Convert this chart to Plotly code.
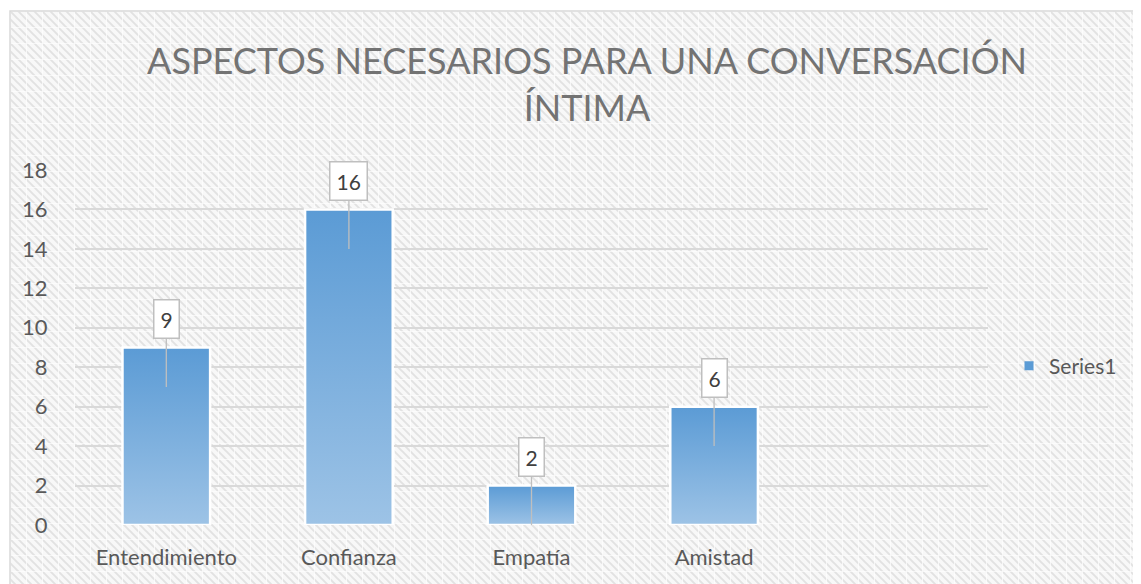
import base64
import plotly.graph_objects as go

categories = ["Entendimiento", "Confianza", "Empatía", "Amistad"]
values = [9, 16, 2, 6]
series_name = "Series1"
y_ticks = [0, 2, 4, 6, 8, 10, 12, 14, 16, 18]

OFF = 8  # page body margin
W, H = 1141 - OFF, 584 - OFF
# plot area in screen pixels: x 75..988, y 170..525
PL, PR, PT, PB = 75, 988, 170, 525
ML, MT = PL - OFF, PT - OFF
MR, MB = W - (PR - OFF), H - (PB - OFF)
PW, PH = PR - PL, PB - PT

def sx(px):  # screen px -> paper x
    return (px - PL) / PW

def sy(py):  # screen px -> paper y
    return (PB - py) / PH

# background hatch pattern (decorative)
bx0, by0 = 10, 11
bw, bh = 1141 - bx0 + 10, 584 - by0 + 10
svg = (
    f'<svg xmlns="http://www.w3.org/2000/svg" width="{bw}" height="{bh}">'
    '<defs>'
    '<pattern id="d" width="8" height="8" patternUnits="userSpaceOnUse">'
    '<rect width="8" height="8" fill="#f8f8f8"/>'
    '<path d="M-2,6 L2,10 M0,0 L8,8 M6,-2 L10,2" stroke="#e2e2e2" stroke-width="1.9"/>'
    '</pattern>'
    '<pattern id="g" width="16" height="16" patternUnits="userSpaceOnUse">'
    '<path d="M0,0 H16 M0,0 V16" stroke="#ffffff" stroke-width="1.6" stroke-opacity="0.85" fill="none"/>'
    '</pattern>'
    '</defs>'
    '<rect width="100%" height="100%" fill="url(#d)"/>'
    '<rect width="100%" height="100%" fill="url(#g)"/>'
    '</svg>'
)
src = "data:image/svg+xml;base64," + base64.b64encode(svg.encode()).decode()

fig = go.Figure()

half = 0.24
for i, v in enumerate(values):
    fig.add_trace(go.Scatter(
        x=[i - half, i + half, i + half, i - half, i - half],
        y=[0, 0, v, v, 0],
        mode="lines",
        fill="toself",
        fillgradient=dict(type="vertical", start=0, stop=v,
                          colorscale=[[0, "#9dc3e6"], [1, "#5b9bd5"]]),
        line=dict(color="white", width=2.5),
        showlegend=False,
        hoverinfo="skip",
    ))

fig.add_trace(go.Scatter(
    x=[None], y=[None], mode="markers", name=series_name,
    marker=dict(symbol="square", size=9, color="#5b9bd5"),
))

annotations = []
for i, v in enumerate(values):
    annotations.append(dict(
        x=i, y=v - 2, xref="x", yref="y",
        text=str(v), showarrow=True, ax=0, ay=-68,
        arrowhead=0, arrowwidth=1.3, arrowcolor="#bfbfbf", standoff=0,
        font=dict(family="Lato", size=21, color="#404040"),
        bgcolor="white", bordercolor="#bfbfbf", borderwidth=1.5, borderpad=6,
    ))

fig.update_layout(
    width=W, height=H,
    margin=dict(l=ML, r=MR, t=MT, b=MB),
    paper_bgcolor="white",
    plot_bgcolor="rgba(0,0,0,0)",
    title=dict(
        text="ASPECTOS NECESARIOS PARA UNA CONVERSACIÓN<br>ÍNTIMA",
        x=(587 - OFF) / W, xanchor="center", y=1 - (74 - OFF) / H, yanchor="top",
        font=dict(family="Lato", size=36, color="#737373", weight=400),
    ),
    xaxis=dict(
        range=[-0.5, 4.5], tickvals=list(range(len(categories))), ticktext=categories,
        showgrid=False, zeroline=False, showline=False,
        ticks="outside", ticklen=13, tickcolor="rgba(0,0,0,0)",
        tickfont=dict(family="Lato", size=22, color="#595959"),
        fixedrange=True,
    ),
    yaxis=dict(
        range=[0, 18], tickvals=y_ticks,
        showgrid=True, gridcolor="#d9d9d9", gridwidth=1.6,
        zeroline=False, showline=False,
        ticks="outside", ticklen=22, tickcolor="rgba(0,0,0,0)",
        tickfont=dict(family="Lato", size=22, color="#595959"),
        fixedrange=True,
    ),
    legend=dict(
        x=sx(1009), y=sy(366), xanchor="left", yanchor="middle",
        bgcolor="rgba(0,0,0,0)", font=dict(family="Lato", size=21, color="#595959"),
        itemwidth=30,
    ),
    images=[dict(
        source=src, xref="paper", yref="paper",
        x=sx(bx0), y=sy(by0),
        sizex=bw / PW, sizey=bh / PH,
        xanchor="left", yanchor="top", sizing="stretch", layer="below",
    )],
    shapes=[dict(
        type="rect", xref="paper", yref="paper",
        x0=sx(bx0), x1=sx(1141 + 10),
        y0=sy(584 + 10), y1=sy(by0),
        line=dict(color="#d9d9d9", width=1.5), fillcolor="rgba(0,0,0,0)", layer="below",
    )],
    annotations=annotations,
    showlegend=True,
)

fig.write_html("out.html")
